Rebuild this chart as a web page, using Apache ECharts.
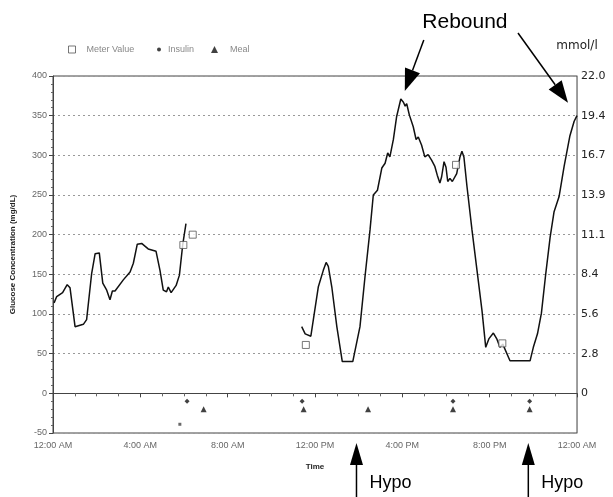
<!DOCTYPE html>
<html>
<head>
<meta charset="utf-8">
<script src="https://cdn.jsdelivr.net/npm/echarts@6/dist/echarts.min.js"></script>
<style>
  html, body { margin: 0; padding: 0; background: #fff; }
  #chart { width: 613px; height: 497px; }
</style>
</head>
<body>
<div id="chart"></div>
<script>
// x-axis tick labels (every 4 hours)
var timeLabels = ['12:00 AM', '4:00 AM', '8:00 AM', '12:00 PM', '4:00 PM', '8:00 PM', '12:00 AM'];
// right axis labels, one per left grid line from -50 to 400
var mmolLabels = ['', '0', '2.8', '5.6', '8.4', '11.1', '13.9', '16.7', '19.4', '22.0'];

// sensor trace, [hour, mg/dL]; null splits the gap
var sensor = [
  [0.05, 114], [0.17, 122], [0.44, 127], [0.65, 137], [0.78, 133], [1.01, 84], [1.1, 85],
  [1.39, 87], [1.54, 93], [1.77, 151], [1.93, 176], [2.12, 177], [2.28, 139], [2.46, 130],
  [2.61, 118], [2.72, 129], [2.84, 129], [3.22, 143], [3.53, 153], [3.68, 164], [3.86, 188],
  [4.06, 189], [4.36, 182], [4.72, 179], [4.9, 155], [5.05, 130], [5.2, 128], [5.28, 134],
  [5.41, 127], [5.64, 136], [5.79, 149], [5.94, 187], [6.09, 214],
  [8, null],
  [11.39, 84], [11.55, 75], [11.81, 72], [11.9, 73], [12.15, 134], [12.38, 155], [12.51, 165],
  [12.61, 160], [12.77, 134], [13.0, 84], [13.25, 40], [13.73, 40], [14.06, 84], [14.29, 147],
  [14.52, 206], [14.67, 250], [14.86, 256], [15.06, 284], [15.21, 290], [15.33, 303],
  [15.43, 298], [15.59, 320], [15.74, 349], [15.93, 371], [16.05, 367], [16.13, 362],
  [16.2, 365], [16.32, 351], [16.5, 336], [16.63, 320], [16.73, 323], [16.88, 313],
  [17.03, 298], [17.18, 301], [17.34, 294], [17.49, 286], [17.6, 275], [17.72, 265],
  [17.8, 273], [17.91, 292], [18.0, 285], [18.08, 267], [18.18, 271], [18.29, 267],
  [18.49, 277], [18.64, 298], [18.73, 305], [18.82, 298], [18.96, 261], [19.19, 206],
  [19.42, 155], [19.65, 104], [19.82, 58], [19.97, 69], [20.17, 76], [20.32, 69],
  [20.47, 58], [20.6, 62], [20.93, 41], [21.85, 41], [22.0, 58], [22.19, 75], [22.37, 101],
  [22.57, 151], [22.77, 197], [22.95, 229], [23.18, 248], [23.41, 286], [23.67, 324],
  [23.87, 343], [24.0, 350]
];

var meterValues = [[5.97, 187], [6.4, 200], [11.58, 61], [18.46, 288], [20.58, 63]];
var insulin = [[6.14, -10], [11.41, -10], [18.32, -10], [21.83, -10]];
var meals = [[6.9, -20], [11.48, -20], [14.43, -20], [18.32, -20], [21.83, -20]];
var other = [[5.81, -39]];

// annotation targets [hour, mg/dL]
var reboundPoints = [[15.93, 371], [24.0, 350]];
var hypoHours = [13.9, 21.77];

var chart = echarts.init(document.getElementById('chart'));

var labelFont = 'Liberation Sans, Arial, sans-serif';

function legendItem(name, left, icon, size, color, border, pad) {
  return {
    left: left, top: 40, itemWidth: size, itemHeight: size,
    textStyle: { color: '#888', fontSize: 9, fontFamily: labelFont, padding: [0, 0, 0, pad] },
    data: [{ name: name, icon: icon, itemStyle: { color: color, borderColor: border, borderWidth: border ? 1 : 0 } }]
  };
}

chart.setOption({
  animation: false,
  textStyle: { fontFamily: labelFont },
  grid: {
    left: 53, right: 36, top: 76, bottom: 64,
    show: true, borderColor: '#444', borderWidth: 1
  },
  legend: [
    legendItem('Meter Value', 63, 'rect', 7, '#fff', '#555', 6),
    legendItem('Insulin', 152, 'circle', 4, '#111', null, 2),
    legendItem('Meal', 206, 'triangle', 7, '#111', null, 7)
  ],
  xAxis: {
    type: 'value', min: 0, max: 24, interval: 4,
    name: 'Time', nameLocation: 'middle', nameGap: 30,
    nameTextStyle: { fontSize: 8, fontWeight: 'bold', color: '#222' },
    axisLine: { lineStyle: { color: '#444' } },
    axisTick: { length: 4, lineStyle: { color: '#444' } },
    minorTick: { show: true, splitNumber: 4, length: 3, lineStyle: { color: '#666' } },
    splitLine: { show: false },
    axisLabel: {
      color: '#666', fontSize: 9, margin: 8,
      formatter: function (v) { return timeLabels[Math.round(v / 4)]; }
    }
  },
  yAxis: [{
    type: 'value', min: -50, max: 400, interval: 50,
    name: 'Glucose Concentration (mg/dL)', nameLocation: 'middle', nameGap: 36,
    nameTextStyle: { fontSize: 8, fontWeight: 'bold', color: '#222' },
    axisLine: { show: true, lineStyle: { color: '#444' } },
    axisTick: { show: true, length: 4, lineStyle: { color: '#444' } },
    minorTick: { show: true, splitNumber: 5, length: 2, lineStyle: { color: '#666' } },
    splitLine: { show: true, lineStyle: { color: '#999', type: [2, 3], width: 1 } },
    axisLabel: { color: '#666', fontSize: 9, margin: 6 }
  }, {
    type: 'value', min: -50, max: 400, interval: 50, position: 'right',
    name: 'mmol/l', nameLocation: 'end', nameGap: 24,
    nameTextStyle: { fontSize: 12, color: '#222', align: 'center', fontFamily: 'DejaVu Sans, sans-serif' },
    axisLine: { show: true, lineStyle: { color: '#999' } },
    axisTick: { show: false },
    splitLine: { show: false },
    axisLabel: {
      color: '#222', fontSize: 11, margin: 4, fontFamily: 'DejaVu Sans, sans-serif',
      formatter: function (v) { return mmolLabels[Math.round((v + 50) / 50)]; }
    }
  }],
  series: [{
    name: 'Sensor', type: 'line', data: sensor, showSymbol: false,
    connectNulls: false, lineStyle: { color: '#111', width: 1.5 }, z: 3
  }, {
    name: 'Meter Value', type: 'scatter', data: meterValues, symbol: 'rect', symbolSize: 7,
    itemStyle: { color: '#fff', borderColor: '#555', borderWidth: 1 }, z: 4
  }, {
    name: 'Insulin', type: 'scatter', data: insulin, symbol: 'diamond', symbolSize: 5,
    itemStyle: { color: '#111' }
  }, {
    name: 'Meal', type: 'scatter', data: meals, symbol: 'triangle', symbolSize: 6,
    itemStyle: { color: '#111' }
  }, {
    name: 'Other', type: 'scatter', data: other, symbol: 'rect', symbolSize: 3,
    itemStyle: { color: '#444' }
  }]
});

// arrow annotations anchored to data positions
function arrow(x1, y1, x2, y2, headLen, headW) {
  var dx = x2 - x1, dy = y2 - y1;
  var len = Math.sqrt(dx * dx + dy * dy);
  var ux = dx / len, uy = dy / len;
  var bx = x2 - ux * headLen, by = y2 - uy * headLen;
  return [{
    type: 'line', silent: true,
    shape: { x1: x1, y1: y1, x2: bx, y2: by },
    style: { stroke: '#000', lineWidth: 1.5 }
  }, {
    type: 'polygon', silent: true,
    shape: { points: [[x2, y2], [bx - uy * headW / 2, by + ux * headW / 2], [bx + uy * headW / 2, by - ux * headW / 2]] },
    style: { fill: '#000' }
  }];
}

var g = [];
var p1 = chart.convertToPixel({ gridIndex: 0 }, reboundPoints[0]);
var p2 = chart.convertToPixel({ gridIndex: 0 }, reboundPoints[1]);
g = g.concat(arrow(p1[0] + 23, 40, p1[0] + 4, p1[1] - 8, 22, 16));
g = g.concat(arrow(p2[0] - 59, 33, p2[0] - 9, p2[1] - 13, 22, 16));
g.push({
  type: 'text', silent: true, x: (p1[0] + p2[0]) / 2 - 24, y: 22,
  style: { text: 'Rebound', fill: '#000', font: '21px Liberation Sans, Arial, sans-serif', align: 'center', verticalAlign: 'middle' }
});
hypoHours.forEach(function (h) {
  var px = chart.convertToPixel({ gridIndex: 0 }, [h, 0])[0];
  g = g.concat(arrow(px, 497, px, 443, 22, 13));
  g.push({
    type: 'text', silent: true, x: px + 13, y: 483,
    style: { text: 'Hypo', fill: '#000', font: '18px Liberation Sans, Arial, sans-serif', align: 'left', verticalAlign: 'middle' }
  });
});
chart.setOption({ graphic: g });
</script>
</body>
</html>
